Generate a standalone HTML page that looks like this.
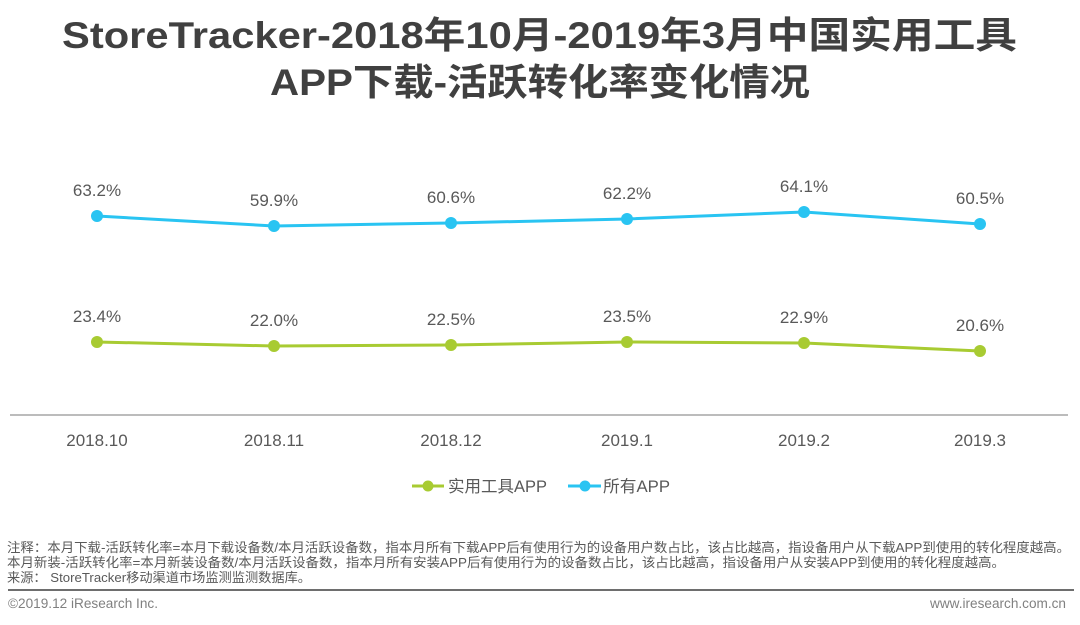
<!DOCTYPE html>
<html>
<head>
<meta charset="utf-8">
<style>
  html, body { margin: 0; padding: 0; background: #ffffff; }
  body { width: 1080px; height: 625px; overflow: hidden; }
  svg { display: block; }
  .t { font-family: "Liberation Sans", "Noto Sans CJK SC", sans-serif; }
</style>
</head>
<body>
<svg width="1080" height="625" viewBox="0 0 1080 625" xmlns="http://www.w3.org/2000/svg">
  <rect width="1080" height="625" fill="#ffffff"/>

  <!-- Title -->
  <text class="t" x="62" y="48" font-size="37" font-weight="bold" fill="#404040" textLength="955" lengthAdjust="spacingAndGlyphs">StoreTracker-2018年10月-2019年3月中国实用工具</text>
  <text class="t" x="270" y="95" font-size="37" font-weight="bold" fill="#404040" textLength="540" lengthAdjust="spacingAndGlyphs">APP下载-活跃转化率变化情况</text>

  <!-- Axis line -->
  <line x1="10" y1="415" x2="1068" y2="415" stroke="#a6a6a6" stroke-width="1.5"/>

  <!-- Blue series: 所有APP -->
  <polyline points="97,216 274,226 451,223 627,219 804,212 980,224" fill="none" stroke="#29c4f2" stroke-width="3" stroke-linejoin="round"/>
  <g fill="#29c4f2">
    <circle cx="97" cy="216" r="6"/>
    <circle cx="274" cy="226" r="6"/>
    <circle cx="451" cy="223" r="6"/>
    <circle cx="627" cy="219" r="6"/>
    <circle cx="804" cy="212" r="6"/>
    <circle cx="980" cy="224" r="6"/>
  </g>
  <g class="t" font-size="17" fill="#595959" text-anchor="middle">
    <text x="97" y="196">63.2%</text>
    <text x="274" y="206">59.9%</text>
    <text x="451" y="203">60.6%</text>
    <text x="627" y="199">62.2%</text>
    <text x="804" y="192">64.1%</text>
    <text x="980" y="204">60.5%</text>
  </g>

  <!-- Green series: 实用工具APP -->
  <polyline points="97,342 274,346 451,345 627,342 804,343 980,351" fill="none" stroke="#a8cb32" stroke-width="3" stroke-linejoin="round"/>
  <g fill="#a8cb32">
    <circle cx="97" cy="342" r="6"/>
    <circle cx="274" cy="346" r="6"/>
    <circle cx="451" cy="345" r="6"/>
    <circle cx="627" cy="342" r="6"/>
    <circle cx="804" cy="343" r="6"/>
    <circle cx="980" cy="351" r="6"/>
  </g>
  <g class="t" font-size="17" fill="#595959" text-anchor="middle">
    <text x="97" y="322">23.4%</text>
    <text x="274" y="326">22.0%</text>
    <text x="451" y="325">22.5%</text>
    <text x="627" y="322">23.5%</text>
    <text x="804" y="323">22.9%</text>
    <text x="980" y="331">20.6%</text>
  </g>

  <!-- X tick labels -->
  <g class="t" font-size="17" fill="#595959" text-anchor="middle">
    <text x="97" y="446">2018.10</text>
    <text x="274" y="446">2018.11</text>
    <text x="451" y="446">2018.12</text>
    <text x="627" y="446">2019.1</text>
    <text x="804" y="446">2019.2</text>
    <text x="980" y="446">2019.3</text>
  </g>

  <!-- Legend -->
  <line x1="412" y1="486" x2="444" y2="486" stroke="#a8cb32" stroke-width="3"/>
  <circle cx="428" cy="486" r="5.5" fill="#a8cb32"/>
  <text class="t" x="448" y="492" font-size="16.5" fill="#595959" textLength="99" lengthAdjust="spacingAndGlyphs">实用工具APP</text>
  <line x1="568" y1="486" x2="601" y2="486" stroke="#29c4f2" stroke-width="3"/>
  <circle cx="585" cy="486" r="5.5" fill="#29c4f2"/>
  <text class="t" x="603" y="492" font-size="16.5" fill="#595959" textLength="67" lengthAdjust="spacingAndGlyphs">所有APP</text>

  <!-- Notes -->
  <g class="t" font-size="13" fill="#595959">
    <text x="7" y="552" textLength="1063" lengthAdjust="spacingAndGlyphs">注释：本月下载-活跃转化率=本月下载设备数/本月活跃设备数，指本月所有下载APP后有使用行为的设备用户数占比，该占比越高，指设备用户从下载APP到使用的转化程度越高。</text>
    <text x="7" y="567" textLength="998" lengthAdjust="spacingAndGlyphs">本月新装-活跃转化率=本月新装设备数/本月活跃设备数，指本月所有安装APP后有使用行为的设备数占比，该占比越高，指设备用户从安装APP到使用的转化程度越高。</text>
    <text x="7" y="582" textLength="304" lengthAdjust="spacingAndGlyphs">来源： StoreTracker移动渠道市场监测监测数据库。</text>
  </g>

  <!-- Separator -->
  <line x1="8" y1="590" x2="1074" y2="590" stroke="#6e6e6e" stroke-width="2"/>

  <!-- Footer -->
  <text class="t" x="8" y="608" font-size="13.5" fill="#808080" textLength="150" lengthAdjust="spacingAndGlyphs">©2019.12 iResearch Inc.</text>
  <text class="t" x="930" y="608" font-size="13.5" fill="#808080" textLength="136" lengthAdjust="spacingAndGlyphs">www.iresearch.com.cn</text>
</svg>
</body>
</html>
